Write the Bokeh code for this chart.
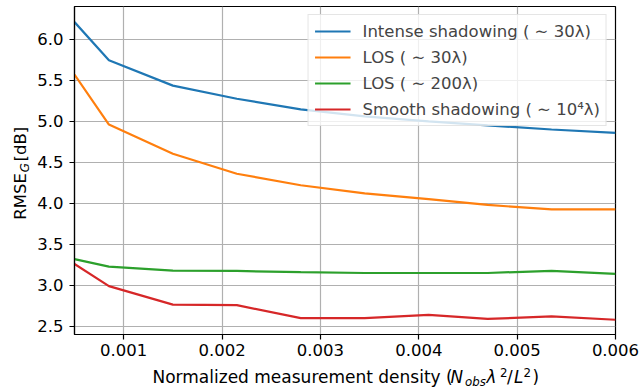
import math
from bokeh.plotting import figure
from bokeh.embed import file_html
from bokeh.resources import INLINE
from bokeh.layouts import row, column
from bokeh.core.properties import value
from bokeh.models import Range1d, FixedTicker, Legend, LegendItem, PrintfTickFormatter

density = [0.0005, 0.00085, 0.0015, 0.00215, 0.0028, 0.00345, 0.0041, 0.0047, 0.00535, 0.006]
intense_30 = [6.21, 5.745, 5.435, 5.275, 5.145, 5.06, 5.0, 4.95, 4.90, 4.86]
los_30 = [5.57, 4.96, 4.605, 4.36, 4.22, 4.12, 4.05, 3.98, 3.925, 3.925]
los_200 = [3.32, 3.228, 3.18, 3.175, 3.16, 3.15, 3.15, 3.15, 3.177, 3.14]
smooth_1e4 = [3.26, 2.99, 2.765, 2.758, 2.60, 2.60, 2.64, 2.59, 2.62, 2.58]
labels = ["Intense shadowing ( ∼ 30λ)", "LOS ( ∼ 30λ)", "LOS ( ∼ 200λ)", "Smooth shadowing ( ∼ 10⁴λ)"]
colors = ["#1f77b4", "#ff7f0e", "#2ca02c", "#d62728"]
x_ticks = [0.001, 0.002, 0.003, 0.004, 0.005, 0.006]
y_ticks = [2.5, 3.0, 3.5, 4.0, 4.5, 5.0, 5.5, 6.0]
X0, X1, Y0, Y1 = 0.0005, 0.006, 2.4, 6.4

W, H = 641, 388
YLW = 34       # width of the y-label strip
XLH = 28       # height of the x-label strip
MW, MH = W - YLW, H - XLH
FL, FR, FT, FB = 73, 615, 6, 334  # frame edges in page px
font = "DejaVu Sans"
BSHIFT = 0.33  # rendered baseline sits this many em below the anchor

p = figure(width=MW, height=MH, output_backend="svg", toolbar_location=None,
           title=None,
           x_range=Range1d(X0, X1), y_range=Range1d(Y0, Y1),
           min_border_left=FL - YLW, min_border_right=W - FR, min_border_top=FT,
           min_border_bottom=MH - FB)
p.background_fill_color = "white"
p.border_fill_color = "white"
p.outline_line_color = "black"
p.outline_line_width = 1.2

series = [intense_30, los_30, los_200, smooth_1e4]
items = []
for ys, lab, c in zip(series, labels, colors):
    r = p.line(density, ys, line_color=c, line_width=2.2)
    items.append(LegendItem(label=lab, renderers=[r]))

for ax in (p.xaxis[0], p.yaxis[0]):
    ax.major_label_text_font = font
    ax.major_label_text_font_size = "16.5px"
    ax.major_label_text_color = "black"
    ax.axis_line_color = "black"
    ax.axis_line_width = 1.2
    ax.major_tick_line_color = "black"
    ax.major_tick_line_width = 1.2
    ax.major_tick_out = 5
    ax.major_tick_in = 0
    ax.minor_tick_line_color = None
p.xaxis.ticker = FixedTicker(ticks=x_ticks)
p.yaxis.ticker = FixedTicker(ticks=y_ticks)
p.xaxis.formatter = PrintfTickFormatter(format="%.3f")
p.yaxis.formatter = PrintfTickFormatter(format="%.1f")
p.xaxis.major_label_standoff = 4
p.yaxis.major_label_standoff = 6

p.grid.grid_line_color = "#b0b0b0"
p.grid.grid_line_width = 1.2
p.xgrid.ticker = FixedTicker(ticks=x_ticks)
p.ygrid.ticker = FixedTicker(ticks=y_ticks)

legend = Legend(items=items, location="top_right", label_text_font=font,
                label_text_font_size="16.5px", glyph_width=36, glyph_height=20,
                label_height=20, spacing=6, padding=6, margin=8, label_standoff=12,
                background_fill_alpha=0.8, border_line_color="#cccccc",
                border_line_width=1.2)
p.add_layout(legend)


def strip(w, h):
    f = figure(width=w, height=h, output_backend="svg", toolbar_location=None,
               title=None, x_range=Range1d(0, w), y_range=Range1d(0, h),
               x_axis_location=None, y_axis_location=None, min_border=0,
               min_border_left=0, min_border_right=0, min_border_top=0,
               min_border_bottom=0)
    f.grid.visible = False
    f.outline_line_color = None
    f.background_fill_color = "white"
    f.border_fill_color = "white"
    return f


# x-axis label strip (page y 360..388); pieces give sub/superscripts
xl = strip(W, XLH)
BL = 382.5


def xput(text, px, py, size, style="normal"):
    ay = py - BSHIFT * size
    xl.text(x=[px], y=[H - ay], text=[text], text_font=value(font),
            text_font_size=value(f"{size}px"), text_font_style=value(style),
            text_color="black", text_baseline=value("alphabetic"),
            text_align=value("left"))


xput("Normalized measurement density (", 152, BL, 17.0)
xput("N", 450, BL, 16.8, "italic")
xput("obs", 464.5, BL + 2.5, 11.8, "italic")
xput("λ", 486, BL, 16.8, "italic")
xput("2", 499.5, BL - 7, 11.8)
xput("/", 506.5, BL, 16.8)
xput("L", 513.5, BL, 16.8, "italic")
xput("2", 523, BL - 7, 11.8)
xput(")", 532, BL, 16.8)

# y-axis label strip (page x 0..34), rotated text
yl = strip(YLW, MH)
A = math.pi / 2


def yput(text, px, py, size, style="normal"):
    ax_ = px - BSHIFT * size
    yl.text(x=[ax_], y=[MH - py], text=[text], text_font=value(font),
            text_font_size=value(f"{size}px"), text_font_style=value(style),
            text_color="black", text_baseline=value("alphabetic"),
            text_align=value("left"), angle=A)


yput("RMSE", 25, 234, 16.5)
yput("G", 28.5, 182, 11.8, "italic")
yput("[dB]", 25, 170, 16.5)

layout = column(row(yl, p, spacing=0), xl, spacing=0)
open("out.html", "w").write(file_html(layout, INLINE))
